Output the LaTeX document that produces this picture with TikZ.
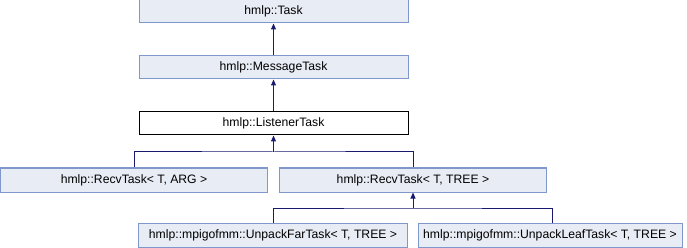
\documentclass[tikz,border=0pt]{standalone}
\usepackage{fontspec}
\setmainfont{Liberation Sans}
\usetikzlibrary{arrows.meta}
\definecolor{boxfill}{HTML}{E8ECF5}
\definecolor{boxline}{HTML}{8097CB}
\definecolor{edge}{HTML}{191970}
\begin{document}
\begin{tikzpicture}[x=1pt,y=-1pt,
  cls/.style={draw=boxline,fill=boxfill,line width=1pt,inner sep=0pt,
    minimum height=23pt,font=\fontsize{12.2}{14}\selectfont},
  cur/.style={cls,draw=black,fill=white},
  link/.style={draw=edge,line width=1pt},
  inh/.style={link,-{Triangle[width=5pt,length=6pt]}}]
\useasboundingbox (0,0) rectangle (687,248);
% base classes
\node[cls,minimum width=269pt] (task) at (273.5,11.5) {hmlp::Task};
\node[cls,minimum width=269pt] (msg) at (273.5,67.5) {hmlp::MessageTask};
\node[cur,minimum width=269pt] (lis) at (273.5,123.5) {hmlp::ListenerTask};
% receivers
\node[cls,minimum width=267pt,minimum height=24pt] (ra) at (134,180) {hmlp::RecvTask< T, ARG >};
\node[cls,minimum width=267pt,minimum height=24pt] (rt) at (413,180) {hmlp::RecvTask< T, TREE >};
% unpackers
\node[cls,minimum width=269pt,minimum height=24pt] (uf) at (273,235) {hmlp::mpigofmm::UnpackFarTask< T, TREE >};
\node[cls,minimum width=264pt,minimum height=24pt] (ul) at (550,235) {hmlp::mpigofmm::UnpackLeafTask< T, TREE >};
% junctions
\coordinate (j1) at (273.5,152);
\coordinate (j2) at (413,208);
\coordinate (ultop) at ([xshift=2pt]ul.north);
% inheritance edges
\draw[inh] (msg.north) -- (task.south);
\draw[inh] (lis.north) -- (msg.south);
\draw[link] (ra.north) |- (j1) -| (rt.north);
\draw[inh] (j1) -- (lis.south);
\draw[link] (uf.north) |- (j2) -| (ultop);
\draw[inh] (j2) -- (rt.south);
\end{tikzpicture}
\end{document}
